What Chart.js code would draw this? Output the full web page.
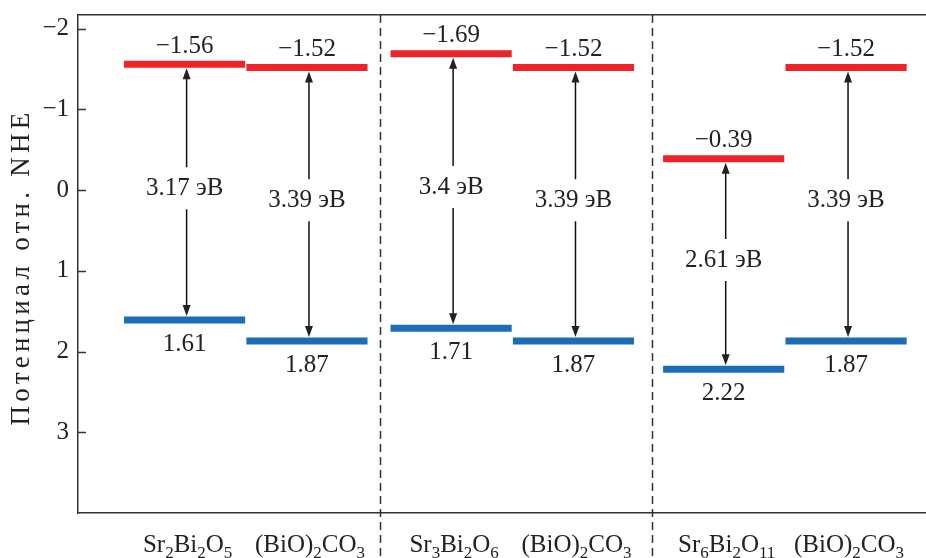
<!DOCTYPE html>
<html><head><meta charset="utf-8">
<script src="https://cdn.jsdelivr.net/npm/chart.js@4"></script>
<style>html,body{margin:0;padding:0;background:#fff}#wrap{width:926px;height:558px;position:relative}
#probe{position:absolute;left:-9999px;top:0;font-family:'Liberation Serif';font-size:25px}</style>
</head><body><div id="probe">Potencial Потенциал 0123</div><div id="wrap"><canvas id="c"></canvas></div>
<script>
// ---- data ----
const categories = ['Sr_2Bi_2O_5', '(BiO)_2CO_3', 'Sr_3Bi_2O_6', '(BiO)_2CO_3', 'Sr_6Bi_2O_11', '(BiO)_2CO_3'];
const cbEdge = [-1.56, -1.52, -1.69, -1.52, -0.39, -1.52];
const vbEdge = [1.61, 1.87, 1.71, 1.87, 2.22, 1.87];
const bandGap = ['3.17', '3.39', '3.4', '3.39', '2.61', '3.39'];
const yTicks = [-2, -1, 0, 1, 2, 3];
const yTitle = 'Потенциал отн. NHE';
const gapUnit = 'эВ';

// ---- layout ----
const colPos = [0.88, 1.89, 3.08, 4.09, 5.33, 6.34];
const dividers = [2.49, 4.74];
const FONT = '"Liberation Serif", "Times New Roman", Times, serif';
const RED = '#ee2227', BLUE = '#1b6db7', INK = '#222', AX = '#333';

const minus = v => (v < 0 ? '\u2212' : '') + Math.abs(v);
const fmt2 = v => (v < 0 ? '\u2212' : '') + Math.abs(v).toFixed(2);

const datasets = [];
categories.forEach((c, i) => {
  datasets.push({data: [{x: colPos[i] - 0.5, y: cbEdge[i]}, {x: colPos[i] + 0.5, y: cbEdge[i]}],
    borderColor: RED, borderWidth: 7, pointRadius: 0, borderCapStyle: 'butt'});
  datasets.push({data: [{x: colPos[i] - 0.5, y: vbEdge[i]}, {x: colPos[i] + 0.5, y: vbEdge[i]}],
    borderColor: BLUE, borderWidth: 7, pointRadius: 0, borderCapStyle: 'butt'});
});

function drawSubLabel(ctx, text, cx, baseline) {
  const parts = text.split(/_(\d+)/);
  const segs = parts.map((t, k) => ({t, sub: k % 2 === 1}));
  let w = 0;
  segs.forEach(s => { ctx.font = (s.sub ? '17px ' : '25px ') + FONT; s.w = ctx.measureText(s.t).width; w += s.w; });
  let x = cx - w / 2;
  ctx.textAlign = 'left'; ctx.textBaseline = 'alphabetic';
  segs.forEach(s => {
    ctx.font = (s.sub ? '17px ' : '25px ') + FONT;
    ctx.fillText(s.t, x, baseline + (s.sub ? 6 : 0));
    x += s.w;
  });
}

function arrowHead(ctx, x, y, dir) {
  ctx.beginPath();
  ctx.moveTo(x, y);
  ctx.lineTo(x - 4, y - dir * 11);
  ctx.lineTo(x + 4, y - dir * 11);
  ctx.closePath();
  ctx.fill();
}

const decor = {
  id: 'decor',
  afterDraw(chart) {
    const ctx = chart.ctx, a = chart.chartArea;
    const xs = chart.scales.x, ys = chart.scales.y;
    ctx.save();
    ctx.strokeStyle = AX; ctx.lineWidth = 1.5;
    yTicks.forEach(v => {
      const y = Math.round(ys.getPixelForValue(v)) + 0.5;
      ctx.beginPath(); ctx.moveTo(a.left, y); ctx.lineTo(a.left + 8, y); ctx.stroke();
    });
    ctx.setLineDash([8, 5]);
    dividers.forEach(d => {
      const x = Math.round(xs.getPixelForValue(d)) + 0.5;
      ctx.beginPath(); ctx.moveTo(x, a.top); ctx.lineTo(x, chart.height); ctx.stroke();
    });
    ctx.setLineDash([]);
    ctx.fillStyle = INK; ctx.strokeStyle = '#111';
    categories.forEach((c, i) => {
      const xc = xs.getPixelForValue(colPos[i]);
      const x = xc + 2;
      const yTop = ys.getPixelForValue(cbEdge[i]) + 4;
      const yBot = ys.getPixelForValue(vbEdge[i]) - 4;
      const ym = (yTop + yBot) / 2 - 4;
      ctx.lineWidth = 1.5;
      ctx.beginPath();
      ctx.moveTo(x, yTop + 8); ctx.lineTo(x, ym - 21);
      ctx.moveTo(x, ym + 21); ctx.lineTo(x, yBot - 8);
      ctx.stroke();
      arrowHead(ctx, x, yTop, -1);
      arrowHead(ctx, x, yBot, 1);
      ctx.font = '25px ' + FONT;
      ctx.textAlign = 'center'; ctx.textBaseline = 'middle';
      ctx.fillText(bandGap[i] + ' ' + gapUnit, xc, ym);
      ctx.fillText(fmt2(cbEdge[i]), xc, ys.getPixelForValue(cbEdge[i]) - 18);
      ctx.fillText(fmt2(vbEdge[i]), xc, ys.getPixelForValue(vbEdge[i]) + 24);
      drawSubLabel(ctx, categories[i], xc + 3, 552);
    });
    // y-axis title
    ctx.save();
    ctx.translate(22, 267);
    ctx.rotate(-Math.PI / 2);
    ctx.font = '27px ' + FONT;
    const w0 = ctx.measureText(yTitle).width;
    const target = 317;
    const n = [...yTitle].length;
    if ('letterSpacing' in ctx && w0 < target) {
      ctx.letterSpacing = ((target - w0) / n).toFixed(2) + 'px';
    }
    ctx.textAlign = 'center'; ctx.textBaseline = 'middle';
    ctx.fillText(yTitle, 0, 0);
    ctx.restore();
    ctx.restore();
  }
};

function makeChart() {
  new Chart(document.getElementById('c'), {
    type: 'line',
    data: {datasets},
    options: {
      responsive: true, maintainAspectRatio: false, animation: false,
      layout: {padding: 0},
      plugins: {legend: {display: false}, tooltip: {enabled: false}},
      scales: {
        x: {type: 'linear', min: 0, max: 7, position: 'bottom',
          grid: {display: true, drawOnChartArea: false, drawTicks: false},
          border: {display: true, color: AX, width: 1.5},
          ticks: {display: false},
          afterFit: s => { s.height = 45; s.paddingLeft = 0; s.paddingRight = 0; }},
        x2: {type: 'linear', min: 0, max: 7, position: 'top',
          grid: {display: true, drawOnChartArea: false, drawTicks: false},
          border: {display: true, color: AX, width: 1.5},
          ticks: {display: false},
          afterFit: s => { s.height = 15; s.paddingLeft = 0; s.paddingRight = 0; }},
        y: {type: 'linear', reverse: true, min: -2.17, max: 4.0,
          afterBuildTicks: s => { s.ticks = yTicks.map(v => ({value: v})); },
          grid: {display: true, drawOnChartArea: false, drawTicks: false},
          border: {display: true, color: AX, width: 1.5},
          ticks: {padding: 9, color: INK, font: {family: FONT, size: 25}, callback: v => minus(v)},
          afterFit: s => { s.width = 78; s.paddingTop = 0; s.paddingBottom = 0; }}
      }
    },
    plugins: [decor]
  });
}
if (document.fonts && document.fonts.load) {
  Promise.all([document.fonts.load('25px "Liberation Serif"'), document.fonts.load('17px "Liberation Serif"')])
    .then(makeChart, makeChart);
} else makeChart();
</script></body></html>
